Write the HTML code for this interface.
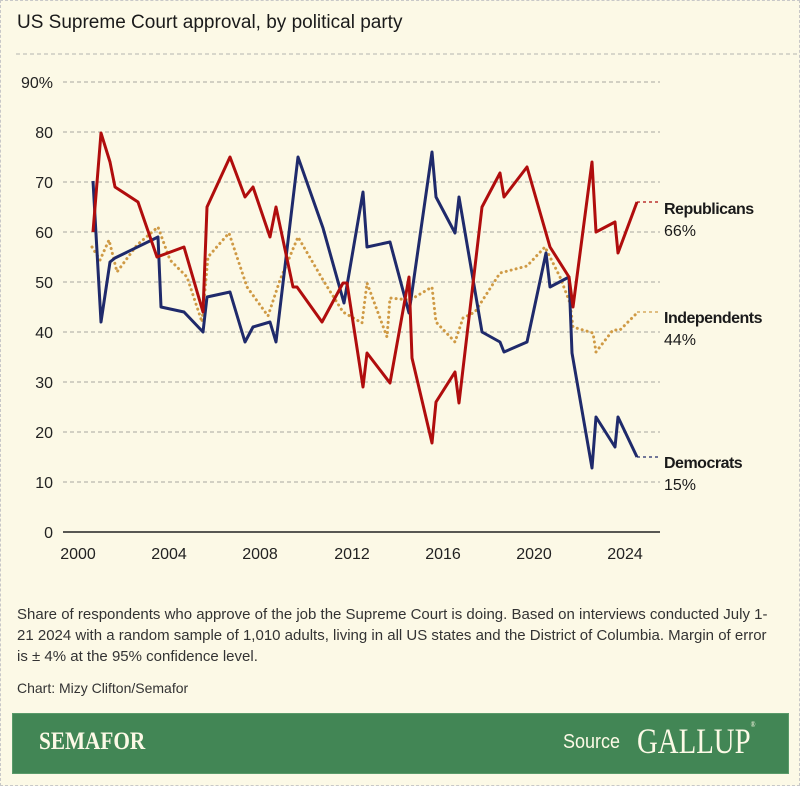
<!DOCTYPE html>
<html><head><meta charset="utf-8"><style>
body{margin:0;background:#fcf9e6;}
.wrap{position:relative;width:798px;height:784px;border:1px dashed #c8c8c8;background:#fcf9e6;font-family:"Liberation Sans",sans-serif;color:#222;overflow:hidden}
.t{position:absolute;white-space:nowrap}
</style></head><body><div class="wrap">
<div class="t" style="left:16px;top:11px;font-size:19px;color:#1a1a1a">US Supreme Court approval, by political party</div>
<svg width="800" height="600" style="position:absolute;left:-1px;top:-1px" font-family="Liberation Sans, sans-serif">
<line x1="16" x2="800" y1="54" y2="54" stroke="#b5b5b0" stroke-dasharray="4,3"/>
<g stroke="#a8a8a0" stroke-dasharray="4,3" stroke-width="1">
<line x1="63" x2="660" y1="82" y2="82"/><line x1="63" x2="660" y1="132" y2="132"/>
<line x1="63" x2="660" y1="182" y2="182"/><line x1="63" x2="660" y1="232" y2="232"/>
<line x1="63" x2="660" y1="282" y2="282"/><line x1="63" x2="660" y1="332" y2="332"/>
<line x1="63" x2="660" y1="382" y2="382"/><line x1="63" x2="660" y1="432" y2="432"/>
<line x1="63" x2="660" y1="482" y2="482"/>
</g>
<line x1="63" x2="660" y1="532" y2="532" stroke="#222" stroke-width="1.5"/>
<g font-size="16" fill="#222" text-anchor="end">
<text x="53" y="88">90%</text><text x="53" y="138">80</text><text x="53" y="188">70</text>
<text x="53" y="238">60</text><text x="53" y="288">50</text><text x="53" y="338">40</text>
<text x="53" y="388">30</text><text x="53" y="438">20</text><text x="53" y="488">10</text>
<text x="53" y="538">0</text></g>
<g font-size="16" fill="#222" text-anchor="middle">
<text x="78" y="559">2000</text><text x="169" y="559">2004</text><text x="260" y="559">2008</text>
<text x="352" y="559">2012</text><text x="443" y="559">2016</text><text x="534" y="559">2020</text><text x="625" y="559">2024</text></g>
<g fill="none" stroke-width="3" stroke-linejoin="round">
<polyline stroke="#cf9a45" stroke-dasharray="0.1,5" stroke-linecap="round" points="92,247 100,260 109,240 117,272 137,245 158,227 170,260 187,277 202,322 208,257 229,233 247,287 268,316 280,280 298,237 323,280 343,312 362,323 367,283 387,337 390,298 410,300 432,287 436,322 455,342 463,318 475,312 500,273 527,266 545,247 560,277 570,303 573,327 593,333 596,352 613,330 620,330 637,313"/>
<polyline stroke="#1f2a6b" points="93,181 101,322 110,262 115,258 158,237 161,307 184,312 203,332 207,297 230,292 245,342 253,327 270,322 276,342 298,157 323,228 344,303 363,192 367,247 390,242 409,313 432,152 436,197 455,233 459,197 482,332 500,342 504,352 527,342 546,253 550,287 569,277 572,353 592,468 596,417 615,447 618,417 637,457"/>
<polyline stroke="#b00d0d" points="93,232 101,133 110,162 115,187 138,202 157,257 184,247 203,312 207,207 230,157 245,197 253,187 270,237 276,207 293,287 297,287 322,322 343,283 347,283 363,387 367,353 390,383 409,277 412,358 432,443 436,402 455,372 459,403 482,207 500,173 504,197 527,167 550,247 569,277 573,307 592,162 596,232 615,222 618,253 637,202"/>
</g>
<g stroke-width="1.3" stroke-dasharray="3,3">
<line x1="637" x2="660" y1="202" y2="202" stroke="#b00d0d"/>
<line x1="637" x2="660" y1="312" y2="312" stroke="#cf9a45"/>
<line x1="637" x2="660" y1="457" y2="457" stroke="#1f2a6b"/>
</g>
<g font-size="16" fill="#1a1a1a">
<text x="664" y="214" font-weight="bold" letter-spacing="-0.5">Republicans</text><text x="664" y="236">66%</text>
<text x="664" y="323" font-weight="bold" letter-spacing="-0.5">Independents</text><text x="664" y="345">44%</text>
<text x="664" y="468" font-weight="bold" letter-spacing="-0.5">Democrats</text><text x="664" y="490">15%</text>
</g>
</svg>
<div class="t" style="left:16px;top:603px;font-size:15px;line-height:21px;color:#333;white-space:normal;width:762px">Share of respondents who approve of the job the Supreme Court is doing. Based on interviews conducted July 1-21 2024 with a random sample of 1,010 adults, living in all US states and the District of Columbia. Margin of error is ± 4% at the 95% confidence level.</div>
<div class="t" style="left:16px;top:679px;font-size:14px;color:#333">Chart: Mizy Clifton/Semafor</div>
<div style="position:absolute;left:11px;top:712px;width:775px;height:59px;background:#428655;border:1px solid #5a9a6a"></div>
<div class="t" style="left:38px;top:727px;font-family:'Liberation Serif',serif;font-weight:bold;font-size:25px;color:#fcf9e6;transform:scaleX(0.85);transform-origin:left">SEMAFOR</div>
<div class="t" style="left:562px;top:730px;font-size:20px;color:#fcf9e6;transform:scaleX(0.9);transform-origin:left">Source</div>
<div class="t" style="left:636px;top:719px;font-family:'Liberation Serif',serif;font-size:36px;color:#fcf9e6;transform:scaleX(0.8);transform-origin:left">GALLUP<span style="font-size:8px;vertical-align:top">®</span></div>
</div></body></html>
